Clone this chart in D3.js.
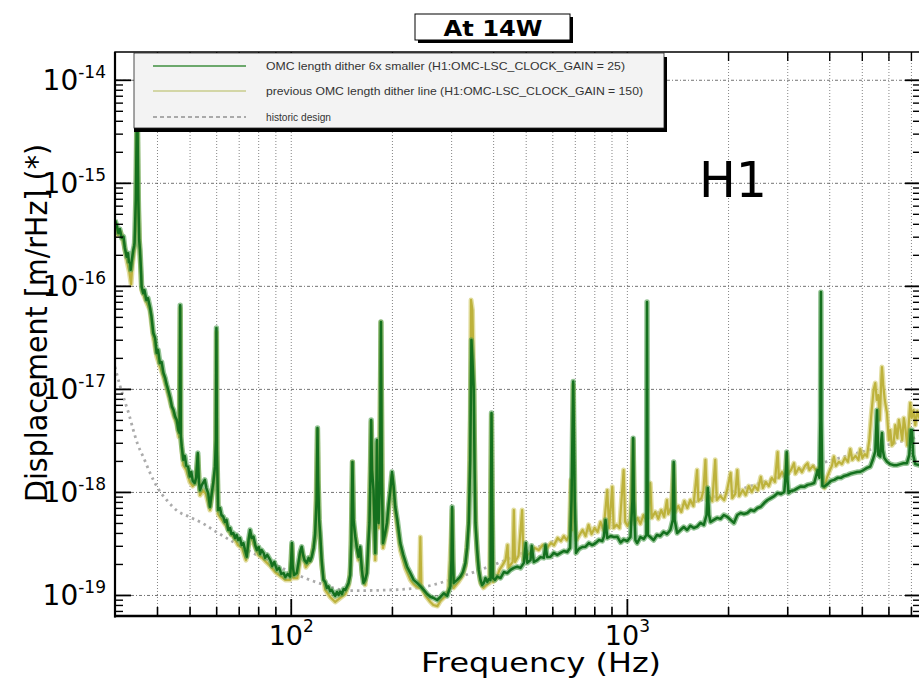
<!DOCTYPE html>
<html>
<head>
<meta charset="utf-8">
<script src="https://cdn.jsdelivr.net/npm/d3@7"></script>
<style>
  body { margin: 0; background: #fff; }
  svg { display: block; }
</style>
</head>
<body>
<svg id="chart" width="919" height="680"></svg>
<script>
// Displacement spectrum [m/rHz] against frequency [Hz]
const currentSpectrum = [[30,4.35e-16],[30.4,3.81e-16],[30.7,3.26e-16],[31.0,3.56e-16],[31.4,2.92e-16],[31.8,3.0e-16],[32.1,2.33e-16],[32.5,1.92e-16],[32.8,2.08e-16],[33.0,1.70e-16],[33.3,1.66e-16],[33.4,1.43e-16],[33.6,1.70e-16],[34.0,2.23e-16],[34.2,2.44e-16],[34.3,2.61e-16],[34.6,6.8e-16],[34.8,3.03e-15],[34.9,8.3e-15],[35.2,6.8e-16],[35.4,2.79e-16],[35.6,2.23e-16],[35.9,1.28e-16],[36.0,9.8e-17],[36.4,8.5e-17],[36.7,9.1e-17],[37.2,7.3e-17],[37.6,7.6e-17],[38.1,6.27e-17],[38.5,5.1e-17],[39.0,3.49e-17],[39.5,3.11e-17],[39.9,2.23e-17],[40.3,2.39e-17],[40.8,1.78e-17],[41.3,1.82e-17],[41.8,1.43e-17],[42.3,1.28e-17],[42.7,1.11e-17],[43.2,9.75e-18],[43.8,8.16e-18],[44.3,6.72e-18],[44.8,6.24e-18],[45.3,5.38e-18],[45.8,5.0e-18],[46.3,3.99e-18],[46.7,3.73e-18],[46.9,6.5e-17],[47.1,3.49e-18],[47.4,2.75e-18],[47.9,2.05e-18],[48.4,2.24e-18],[48.9,1.79e-18],[49.5,1.76e-18],[50.1,1.41e-18],[50.6,1.56e-18],[51.1,1.28e-18],[51.8,1.22e-18],[52.3,1.37e-18],[52.9,2.39e-18],[53.3,1.25e-18],[53.7,1.04e-18],[54.4,1.17e-18],[55.5,1.31e-18],[56.1,1.09e-18],[56.8,9.75e-19],[57.5,7.18e-19],[58.1,9.3e-19],[58.8,1.22e-18],[59.5,1.76e-18],[59.9,3.19e-18],[60.1,3.9e-17],[60.3,2.56e-18],[60.8,6.67e-19],[61.6,6.98e-19],[62.2,5.97e-19],[63.0,5.74e-19],[63.7,5.11e-19],[64.4,5.35e-19],[65.2,4.27e-19],[66.0,4.47e-19],[66.6,3.9e-19],[67.5,3.99e-19],[68.3,3.57e-19],[69.0,3.82e-19],[69.8,3.41e-19],[70.6,3.57e-19],[71.4,3.05e-19],[72.3,3.19e-19],[73.1,2.73e-19],[74.0,2.35e-19],[74.9,3.41e-19],[75.7,4.27e-19],[76.5,3.57e-19],[77.5,3.68e-19],[78.4,3.05e-19],[79.3,2.73e-19],[80.3,2.92e-19],[81.1,2.5e-19],[81.9,2.73e-19],[83.0,2.56e-19],[83.9,2.29e-19],[85.1,2.45e-19],[86.9,2.18e-19],[88.1,1.91e-19],[89.3,2.09e-19],[91.0,1.75e-19],[92.4,1.83e-19],[93.7,1.6e-19],[95.2,1.63e-19],[96.3,1.49e-19],[97.9,1.6e-19],[99.6,1.51e-19],[100.3,2.18e-19],[100.8,3.19e-19],[101.3,1.95e-19],[102.3,1.56e-19],[104.2,1.63e-19],[105.5,2.09e-19],[106.6,2.61e-19],[107.8,2.94e-19],[108.8,2.45e-19],[109.9,2.18e-19],[111.6,2.05e-19],[113.0,2.29e-19],[114.2,2.14e-19],[115.5,2.35e-19],[117.0,2.86e-19],[118.2,3.99e-19],[119.4,8.35e-19],[120.1,4.17e-18],[120.6,1.31e-18],[121.5,5.35e-19],[122.3,3.99e-19],[123.6,2.18e-19],[125.1,1.4e-19],[126.6,1.34e-19],[128.1,1.17e-19],[129.5,1.21e-19],[131.0,1.09e-19],[132.4,1.12e-19],[134.0,1.04e-19],[135.6,9.8e-20],[137.2,1.07e-19],[138.7,1.0e-19],[140.3,1.08e-19],[142.0,1.02e-19],[143.6,1.14e-19],[145.3,1.12e-19],[147.0,1.21e-19],[148.6,1.31e-19],[150.3,1.56e-19],[151.5,3.41e-19],[152.6,1.95e-18],[153.7,5.35e-19],[155.6,3.68e-19],[157.3,2.86e-19],[159.1,2.35e-19],[160.9,2.94e-19],[162.8,1.75e-19],[164.6,1.31e-19],[166.5,1.4e-19],[168.5,1.63e-19],[170.0,3.05e-19],[171.5,5.0e-19],[172.8,1.63e-18],[173.5,5.0e-18],[174.5,1.63e-18],[176.3,1.04e-18],[178.4,2.56e-19],[179.7,8.35e-19],[180.5,3.19e-18],[181.4,8.35e-19],[182.5,5.0e-19],[184.4,1.31e-18],[185.5,4.46e-17],[186.7,1.31e-18],[188.1,3.19e-19],[190.4,3.82e-19],[193.3,5.0e-19],[195.5,7.46e-19],[197.8,1.04e-18],[200.1,1.56e-18],[202.3,1.14e-18],[204.6,7.18e-19],[207.5,5.35e-19],[211.8,3.19e-19],[216.2,2.45e-19],[221.8,1.88e-19],[226.9,1.63e-19],[232.1,1.4e-19],[237.6,1.31e-19],[243.0,1.22e-19],[248.6,1.12e-19],[254.5,1.02e-19],[260.3,9.6e-20],[266.2,9.35e-20],[272.5,8.94e-20],[278.8,9.56e-20],[285.2,1.04e-19],[291.9,9.8e-20],[298.6,1.21e-19],[300.7,2.18e-19],[302.1,7.14e-19],[303.8,2.18e-19],[305.4,1.31e-19],[312.6,1.4e-19],[319.8,1.51e-19],[325.3,1.67e-19],[330.9,2.05e-19],[334.8,2.86e-19],[338.5,5.0e-19],[342.0,2.05e-18],[344.8,2.98e-17],[347.2,1.9e-17],[350.3,9.75e-18],[352.4,1.63e-18],[354.4,5.0e-19],[358.6,2.73e-19],[362.5,1.75e-19],[366.8,1.4e-19],[371.1,1.25e-19],[375.2,1.31e-19],[379.6,1.46e-19],[384.0,1.34e-19],[388.3,1.43e-19],[392.9,1.4e-19],[394.2,8.35e-19],[395.6,5.84e-18],[397.5,8.35e-19],[399.7,1.46e-19],[405.3,1.4e-19],[411.4,1.51e-19],[420.8,1.46e-19],[430.5,1.67e-19],[440.6,1.63e-19],[450.7,1.75e-19],[461.0,1.83e-19],[471.8,1.88e-19],[482.7,1.83e-19],[493.7,2.05e-19],[500.5,3.2e-19],[505.3,2.05e-19],[516.8,2.18e-19],[521.0,3.0e-19],[528.7,2.09e-19],[541.1,2.18e-19],[553.4,2.33e-19],[566.1,2.29e-19],[572.7,3.05e-19],[579.4,2.33e-19],[592.7,2.35e-19],[606.3,2.56e-19],[620.6,2.45e-19],[634.8,2.56e-19],[649.3,2.67e-19],[664.6,2.61e-19],[677.5,2.86e-19],[684.4,8.35e-19],[692.5,1.18e-17],[699.7,8.35e-19],[706.0,2.56e-19],[719.7,2.8e-19],[736.7,2.92e-19],[753.5,2.94e-19],[770.7,3.19e-19],[788.9,3.05e-19],[807.0,3.19e-19],[825.4,3.41e-19],[844.8,3.34e-19],[854.2,3.68e-19],[864.2,5.35e-19],[874.4,3.57e-19],[894.4,3.73e-19],[914.9,3.65e-19],[936.5,3.68e-19],[957.9,3.23e-19],[977.8,3.45e-19],[1003,3.34e-19],[1025,3.65e-19],[1039,8.35e-19],[1044,3.33e-18],[1049,8.35e-19],[1060,3.41e-19],[1073,3.19e-19],[1097,3.65e-19],[1122,3.49e-19],[1143,3.82e-19],[1148,6.97e-17],[1154,3.82e-19],[1174,3.65e-19],[1201,3.41e-19],[1229,3.82e-19],[1257,3.73e-19],[1286,4.09e-19],[1316,3.9e-19],[1347,4.27e-19],[1370,5.35e-19],[1378,1.95e-18],[1387,5.35e-19],[1411,3.99e-19],[1443,4.27e-19],[1476,4.57e-19],[1511,4.27e-19],[1545,4.69e-19],[1581,4.47e-19],[1618,4.6e-19],[1656,5.0e-19],[1694,4.79e-19],[1726,5.97e-19],[1741,1.09e-18],[1756,5.97e-19],[1774,5.11e-19],[1814,5.35e-19],[1857,5.6e-19],[1899,5.48e-19],[1943,5.97e-19],[1989,5.74e-19],[2035,5.35e-19],[2082,5.0e-19],[2131,5.97e-19],[2180,6.25e-19],[2230,6.11e-19],[2283,6.25e-19],[2336,6.67e-19],[2390,6.53e-19],[2447,6.98e-19],[2503,7.18e-19],[2561,7.8e-19],[2621,8.35e-19],[2682,8.72e-19],[2745,9.12e-19],[2809,9.75e-19],[2874,9.55e-19],[2940,9.99e-19],[2975,1.63e-18],[2989,2.44e-18],[3005,1.31e-18],[3026,9.75e-19],[3078,1.02e-18],[3149,1.04e-18],[3223,1.09e-18],[3295,1.13e-18],[3370,1.12e-18],[3449,1.17e-18],[3528,1.19e-18],[3609,1.22e-18],[3694,1.63e-18],[3740,1.37e-18],[3765,5.0e-18],[3778,8.7e-17],[3791,5.0e-18],[3817,1.14e-18],[3864,1.13e-18],[3955,1.19e-18],[4046,1.28e-18],[4139,1.31e-18],[4236,1.37e-18],[4332,1.37e-18],[4432,1.43e-18],[4537,1.46e-18],[4620,1.5e-18],[4730,1.53e-18],[4840,1.56e-18],[4948,1.57e-18],[5061,1.63e-18],[5180,1.71e-18],[5298,1.76e-18],[5390,2.05e-18],[5483,2.47e-18],[5548,6.2e-18],[5597,2.29e-18],[5675,2.2e-18],[5714,3.19e-18],[5740,3.73e-18],[5772,2.56e-18],[5832,2.14e-18],[5941,1.96e-18],[6076,1.86e-18],[6216,1.82e-18],[6363,1.82e-18],[6508,1.86e-18],[6656,1.9e-18],[6813,1.9e-18],[6922,2.29e-18],[6994,3.99e-18],[7051,3.99e-18],[7105,2.29e-18],[7213,1.86e-18],[7414,1.82e-18],[7515,1.79e-18]];

const previousSpectrum = [[30,4.16e-16],[30.6,3.11e-16],[31.2,3.33e-16],[31.9,2.49e-16],[32.6,1.7e-16],[33.1,1.36e-16],[33.5,1.04e-16],[33.8,1.6e-16],[34.3,2.33e-16],[34.6,3.49e-16],[34.8,3.03e-15],[34.9,8.3e-15],[35.2,6.08e-16],[35.6,1.99e-16],[36.0,9.1e-17],[36.6,7.96e-17],[37.3,6.8e-17],[38.1,5.82e-17],[38.9,3.33e-17],[39.9,2.08e-17],[40.8,1.66e-17],[41.8,1.31e-17],[42.7,1.02e-17],[43.8,7.46e-18],[44.7,5.7e-18],[45.8,4.57e-18],[46.5,3.41e-18],[46.9,6.08e-17],[47.1,3.19e-18],[47.9,1.83e-18],[48.9,1.63e-18],[50.1,1.25e-18],[51.1,1.14e-18],[52.1,1.22e-18],[52.9,2.24e-18],[53.7,9.3e-19],[54.8,1.04e-18],[55.9,9.56e-19],[57.5,6.67e-19],[58.7,1.09e-18],[59.7,1.63e-18],[60.1,3.56e-17],[60.4,2.29e-18],[60.8,6.11e-19],[62.4,5.35e-19],[64.2,4.69e-19],[66.0,3.99e-19],[67.9,3.57e-19],[69.7,3.05e-19],[71.6,2.86e-19],[73.6,2.18e-19],[75.7,3.82e-19],[77.9,3.05e-19],[80.1,2.45e-19],[82.3,2.29e-19],[84.5,2.09e-19],[86.9,1.91e-19],[89.9,1.67e-19],[93.1,1.53e-19],[96.3,1.4e-19],[99.6,1.4e-19],[100.8,3.05e-19],[101.7,1.46e-19],[104.6,1.46e-19],[107.8,2.73e-19],[110.9,1.86e-19],[114.8,2.18e-19],[118.2,3.65e-19],[120.1,3.99e-18],[121.5,4.79e-19],[123.6,1.95e-19],[126.6,1.12e-19],[131.0,9.56e-20],[135.6,8.55e-20],[140.3,9.35e-20],[145.3,1.02e-19],[148.8,1.25e-19],[150.8,1.95e-19],[152.6,1.95e-18],[153.7,4.79e-19],[156.4,3.41e-19],[159.1,2.18e-19],[160.9,2.73e-19],[163.1,1.56e-19],[166.5,1.25e-19],[170.0,2.45e-19],[173.5,4.78e-18],[175.9,9.3e-19],[178.4,2.18e-19],[180.5,2.98e-18],[182.7,4.47e-19],[185.5,4.46e-17],[188.1,2.86e-19],[193.3,4.47e-19],[200.1,1.43e-18],[204.6,6.4e-19],[211.8,2.73e-19],[219.1,1.83e-19],[226.9,1.4e-19],[231.6,1.28e-19],[234.8,1.23e-19],[241.3,1.17e-19],[243.0,3.65e-19],[244.7,1.17e-19],[251.9,9.8e-20],[260.3,8.55e-20],[265.6,8.0e-20],[273.1,7.8e-20],[278.8,8.73e-20],[286.6,9.56e-20],[294.7,1.12e-19],[297.9,2.18e-19],[302.1,6.67e-19],[304.9,1.17e-19],[315.6,1.34e-19],[324.2,1.53e-19],[330.9,1.91e-19],[337.8,4.79e-19],[342.0,5.0e-18],[343.9,7.3e-17],[347.2,5.82e-17],[350.3,1.22e-17],[353.2,1.63e-18],[355.6,4.27e-19],[359.3,2.18e-19],[366.8,1.31e-19],[374.4,1.17e-19],[382.2,1.25e-19],[390.3,1.31e-19],[395.6,5.58e-18],[399.7,1.34e-19],[409.4,1.46e-19],[417.9,1.75e-19],[426.6,1.95e-19],[435.5,2.18e-19],[441.6,3.05e-19],[444.6,1.83e-19],[457.2,2.09e-19],[461.0,6.67e-19],[464.7,2.09e-19],[476.0,2.4e-19],[488.0,6.67e-19],[492.4,2.18e-19],[506.5,2.45e-19],[520.6,2.61e-19],[531.7,2.86e-19],[546.7,2.73e-19],[562.2,3.05e-19],[578.1,2.86e-19],[594.5,3.19e-19],[607.1,3.05e-19],[622.4,3.57e-19],[636.4,3.34e-19],[649.3,3.73e-19],[662.7,3.41e-19],[674.1,3.82e-19],[681.3,1.31e-18],[688.4,4.27e-19],[692.5,1.09e-17],[698.6,5.35e-19],[708.5,3.41e-19],[723.1,3.82e-19],[738.2,4.27e-19],[753.5,3.73e-19],[769.2,4.79e-19],[785.2,3.9e-19],[801.5,4.47e-19],[818.1,4.09e-19],[835.1,5.11e-19],[852.4,4.27e-19],[874.4,1.04e-18],[885.3,4.47e-19],[905.0,1.12e-18],[913.3,4.47e-19],[932,4.79e-19],[951,4.47e-19],[978,1.63e-18],[988,5.11e-19],[1005,4.69e-19],[1025,5.35e-19],[1044,3.19e-18],[1056,4.9e-19],[1074,5.6e-19],[1097,4.9e-19],[1120,5.97e-19],[1143,5.23e-19],[1158,6.4e-19],[1174,1.22e-18],[1186,5.6e-19],[1215,6.4e-19],[1240,5.48e-19],[1265,6.67e-19],[1291,5.74e-19],[1316,8.35e-19],[1327,6.11e-19],[1354,6.98e-19],[1378,1.83e-18],[1393,6.4e-19],[1422,7.3e-19],[1452,6.4e-19],[1482,8.16e-19],[1513,6.98e-19],[1545,8.35e-19],[1577,7.3e-19],[1618,1.63e-18],[1632,8.16e-19],[1667,8.72e-19],[1690,1.04e-18],[1713,2.05e-18],[1730,8.35e-19],[1759,9.12e-19],[1795,8.16e-19],[1832,2.05e-18],[1851,8.35e-19],[1895,9.12e-19],[1947,8.35e-19],[1987,1.04e-18],[2035,1.53e-18],[2059,8.72e-19],[2101,9.56e-19],[2131,1.63e-18],[2157,9.12e-19],[2212,1.04e-18],[2257,9.3e-19],[2304,1.14e-18],[2352,9.99e-19],[2401,1.14e-18],[2452,1.04e-18],[2503,1.4e-18],[2538,1.09e-18],[2591,1.25e-18],[2644,1.14e-18],[2699,1.37e-18],[2756,1.25e-18],[2809,2.44e-18],[2833,1.37e-18],[2893,1.56e-18],[2954,1.4e-18],[2989,2.29e-18],[3015,1.5e-18],[3078,1.63e-18],[3142,1.9e-18],[3174,1.5e-18],[3250,1.71e-18],[3318,1.56e-18],[3388,1.79e-18],[3449,1.9e-18],[3491,1.63e-18],[3576,1.79e-18],[3651,1.63e-18],[3727,1.71e-18],[3804,1.43e-18],[3869,1.09e-18],[3936,1.37e-18],[4018,1.63e-18],[4073,1.79e-18],[4129,2.2e-18],[4186,1.79e-18],[4273,1.96e-18],[4361,1.86e-18],[4452,2.14e-18],[4546,1.96e-18],[4620,2.61e-18],[4683,2.05e-18],[4788,2.24e-18],[4887,2.05e-18],[4948,2.61e-18],[5018,2.14e-18],[5105,2.33e-18],[5180,2.2e-18],[5263,3.19e-18],[5335,5.58e-18],[5420,9.75e-18],[5483,1.14e-17],[5540,7.8e-18],[5597,8.7e-18],[5655,5.0e-18],[5714,1.22e-17],[5740,1.63e-17],[5791,1.09e-17],[5851,7.8e-18],[5941,5.84e-18],[6016,3.19e-18],[6076,3.99e-18],[6140,2.83e-18],[6216,2.98e-18],[6290,4.45e-18],[6378,3.33e-18],[6444,5.0e-18],[6508,4.26e-18],[6597,3.19e-18],[6665,5.22e-18],[6733,4.26e-18],[6825,2.83e-18],[6895,4.45e-18],[6966,7.3e-18],[7037,5.22e-18],[7124,6.24e-18],[7213,4.45e-18],[7313,6.1e-18],[7414,5.22e-18],[7515,5.58e-18]];

const designSpectrum = [[30,1.64e-17],[31,1.09e-17],[32,7.8e-18],[33,5.7e-18],[34,3.99e-18],[35,2.93e-18],[36.5,2.15e-18],[38,1.57e-18],[40,1.12e-18],[43,8.16e-19],[46,6.53e-19],[50,5.72e-19],[55,4.9e-19],[60,4.1e-19],[70,3.05e-19],[80,2.4e-19],[100,1.67e-19],[120,1.32e-19],[150,1.1e-19],[200,1.12e-19],[250,1.2e-19],[300,1.41e-19],[400,1.95e-19],[500,2.63e-19],[700,3.89e-19],[1000,5.13e-19],[1500,7.59e-19],[2000,9.77e-19],[3000,1.48e-18],[4000,2.0e-18],[5000,2.45e-18],[7500,3.47e-18]];

const xMajorTicks = [100, 1000];
const xMinorTicks = [40, 50, 60, 70, 80, 90, 200, 300, 400, 500, 600, 700, 800, 900, 2000, 3000, 4000, 5000, 6000, 7000];
const xTickExponents = ["2", "3"];
const yMajorTicks = [1e-19, 1e-18, 1e-17, 1e-16, 1e-15, 1e-14];
const yMinorTicks = [7e-20, 8e-20, 9e-20,
  2e-19, 3e-19, 4e-19, 5e-19, 6e-19, 7e-19, 8e-19, 9e-19,
  2e-18, 3e-18, 4e-18, 5e-18, 6e-18, 7e-18, 8e-18, 9e-18,
  2e-17, 3e-17, 4e-17, 5e-17, 6e-17, 7e-17, 8e-17, 9e-17,
  2e-16, 3e-16, 4e-16, 5e-16, 6e-16, 7e-16, 8e-16, 9e-16,
  2e-15, 3e-15, 4e-15, 5e-15, 6e-15, 7e-15, 8e-15, 9e-15];
const yTickExponents = ["-19", "-18", "-17", "-16", "-15", "-14"];
const legendLabels = [
  "OMC length dither 6x smaller (H1:OMC-LSC_CLOCK_GAIN = 25)",
  "previous OMC length dither line (H1:OMC-LSC_CLOCK_GAIN = 150)",
  "historic design"
];
const titleText = "At 14W";
const siteLabel = "H1";
const xTitle = "Frequency (Hz)";
const yTitle = "Displacement [m/rHz] (*)";

// ---- layout ----
const W = 919, H = 680;
const L = 115, R = 921, T = 52, B = 616;
const FONT = "'DejaVu Sans', 'Liberation Sans', Arial, sans-serif";

const svg = d3.select("#chart");
svg.append("rect").attr("width", W).attr("height", H).attr("fill", "#fff");

const x = d3.scaleLog().domain([30, 7500]).range([L, R]);
const y = d3.scaleLog().domain([6.25e-20, 1.86e-14]).range([B, T]);

svg.append("defs").append("clipPath").attr("id", "plotClip")
  .append("rect").attr("x", L).attr("y", T).attr("width", R - L).attr("height", B - T);

// ---- grid ----
svg.append("g")
  .attr("transform", `translate(0,${B})`)
  .call(d3.axisBottom(x).tickValues(xMinorTicks.concat(xMajorTicks)).tickSize(-(B - T)).tickFormat(""))
  .call(g => g.select(".domain").remove())
  .selectAll("line")
  .attr("stroke", "#555").attr("stroke-width", 0.9).attr("stroke-dasharray", "1 2").attr("opacity", 0.8);

svg.append("g")
  .attr("transform", `translate(${L},0)`)
  .call(d3.axisLeft(y).tickValues(yMajorTicks).tickSize(-(R - L)).tickFormat(""))
  .call(g => g.select(".domain").remove())
  .selectAll("line")
  .attr("stroke", "#444").attr("stroke-width", 1).attr("stroke-dasharray", "3 2 1 2").attr("opacity", 0.75);

// ---- spectra ----
const plot = svg.append("g").attr("clip-path", "url(#plotClip)");
const line = d3.line().x(d => x(d[0])).y(d => y(d[1]));
const smoothLine = d3.line().x(d => x(d[0])).y(d => y(d[1])).curve(d3.curveMonotoneX);

plot.append("path").datum(designSpectrum).attr("d", smoothLine)
  .attr("fill", "none").attr("stroke", "#ababab").attr("stroke-width", 2.8)
  .attr("stroke-dasharray", "2.5 4");

plot.append("path").datum(previousSpectrum).attr("d", line)
  .attr("fill", "none").attr("stroke", "#d6d07a").attr("stroke-width", 5).attr("opacity", 0.7)
  .attr("stroke-linejoin", "round");
plot.append("path").datum(previousSpectrum).attr("d", line)
  .attr("fill", "none").attr("stroke", "#bdb23c").attr("stroke-width", 2.2)
  .attr("stroke-linejoin", "round");

plot.append("path").datum(currentSpectrum).attr("d", line)
  .attr("fill", "none").attr("stroke", "#4c9c4c").attr("stroke-width", 5.4).attr("opacity", 0.6)
  .attr("stroke-linejoin", "round");
plot.append("path").datum(currentSpectrum).attr("d", line)
  .attr("fill", "none").attr("stroke", "#14701e").attr("stroke-width", 2.5)
  .attr("stroke-linejoin", "round");

// ---- frame and ticks ----
function styleTicks(g, w) {
  g.select(".domain").remove();
  g.selectAll("line").attr("stroke", "#000").attr("stroke-width", w);
}
svg.append("g").attr("transform", `translate(0,${B})`)
  .call(d3.axisBottom(x).tickValues(xMinorTicks).tickSize(-9).tickFormat(""))
  .call(g => styleTicks(g, 1.6));
const xMajor = svg.append("g").attr("transform", `translate(0,${B})`)
  .call(d3.axisBottom(x).tickValues(xMajorTicks).tickSize(-17).tickFormat(""))
  .call(g => styleTicks(g, 1.8));
svg.append("g").attr("transform", `translate(0,${T})`)
  .call(d3.axisTop(x).tickValues(xMinorTicks).tickSize(-9).tickFormat(""))
  .call(g => styleTicks(g, 1.4));
svg.append("g").attr("transform", `translate(0,${T})`)
  .call(d3.axisTop(x).tickValues(xMajorTicks).tickSize(-17).tickFormat(""))
  .call(g => styleTicks(g, 1.6));

svg.append("g").attr("transform", `translate(${L},0)`)
  .call(d3.axisLeft(y).tickValues(yMinorTicks).tickSize(-8).tickFormat(""))
  .call(g => styleTicks(g, 1.4));
const yMajor = svg.append("g").attr("transform", `translate(${L},0)`)
  .call(d3.axisLeft(y).tickValues(yMajorTicks).tickSize(-16).tickFormat(""))
  .call(g => styleTicks(g, 1.8));
svg.append("g").attr("transform", `translate(${R},0)`)
  .call(d3.axisRight(y).tickValues(yMinorTicks).tickSize(-8).tickFormat(""))
  .call(g => styleTicks(g, 1.4));
svg.append("g").attr("transform", `translate(${R},0)`)
  .call(d3.axisRight(y).tickValues(yMajorTicks).tickSize(-16).tickFormat(""))
  .call(g => styleTicks(g, 1.8));

svg.append("rect").attr("x", L).attr("y", T).attr("width", R - L).attr("height", B - T)
  .attr("fill", "none").attr("stroke", "#000").attr("stroke-width", 1.5);
svg.append("line").attr("x1", L).attr("x2", L).attr("y1", T).attr("y2", B + 1.5)
  .attr("stroke", "#000").attr("stroke-width", 2.2);
svg.append("line").attr("x1", L - 1).attr("x2", R).attr("y1", B).attr("y2", B)
  .attr("stroke", "#000").attr("stroke-width", 2.6);

// power-of-ten tick labels
xMajor.selectAll(".tick").each(function (d, i) {
  const t = d3.select(this).append("text")
    .attr("x", 0).attr("y", 29).attr("text-anchor", "middle")
    .attr("fill", "#000").attr("font-family", FONT).attr("font-size", 27);
  t.append("tspan").text("10");
  t.append("tspan").attr("dy", -13).attr("font-size", 17).text(xTickExponents[i]);
});
yMajor.selectAll(".tick").each(function (d, i) {
  const t = d3.select(this).append("text")
    .attr("x", -9).attr("y", 10).attr("text-anchor", "end")
    .attr("fill", "#000").attr("font-family", FONT).attr("font-size", 28);
  t.append("tspan").text("10");
  t.append("tspan").attr("dy", -12).attr("font-size", 17).text(yTickExponents[i]);
});

// axis titles
svg.append("text").attr("x", 541).attr("y", 672).attr("text-anchor", "middle")
  .attr("font-family", FONT).attr("font-size", 27).attr("fill", "#000")
  .attr("textLength", 240).attr("lengthAdjust", "spacingAndGlyphs")
  .text(xTitle);
svg.append("text").attr("transform", "translate(47,323) rotate(-90)")
  .attr("text-anchor", "middle")
  .attr("font-family", FONT).attr("font-size", 31).attr("fill", "#000")
  .attr("textLength", 358).attr("lengthAdjust", "spacingAndGlyphs")
  .text(yTitle);

// ---- legend ----
const lg = svg.append("g");
lg.append("rect").attr("x", 134).attr("y", 127).attr("width", 533).attr("height", 5).attr("fill", "#000");
lg.append("rect").attr("x", 663).attr("y", 57).attr("width", 4).attr("height", 75).attr("fill", "#000");
lg.append("rect").attr("x", 134).attr("y", 53).attr("width", 530).attr("height", 75)
  .attr("fill", "#f3f3f3").attr("stroke", "#222").attr("stroke-width", 0.8);
const legendRows = [66, 91, 117];
const legendWidths = [359, 377, 65];
const legendStyles = [
  { stroke: "#3f8f3f", width: 1.6, dash: null },
  { stroke: "#c9cc8c", width: 1.6, dash: null },
  { stroke: "#a9a9a9", width: 2.2, dash: "4 3" }
];
legendLabels.forEach((label, i) => {
  const s = legendStyles[i];
  lg.append("line").attr("x1", 153).attr("x2", 246)
    .attr("y1", legendRows[i]).attr("y2", legendRows[i])
    .attr("stroke", s.stroke).attr("stroke-width", s.width)
    .attr("stroke-dasharray", s.dash);
  lg.append("text").attr("x", 266).attr("y", legendRows[i] + 4)
    .attr("font-family", "'Liberation Sans', Arial, sans-serif").attr("font-size", 10.5)
    .attr("fill", "#333")
    .attr("textLength", legendWidths[i]).attr("lengthAdjust", "spacingAndGlyphs")
    .text(label);
});

// ---- title box ----
svg.append("rect").attr("x", 418).attr("y", 17).attr("width", 155).attr("height", 26).attr("fill", "#000");
svg.append("rect").attr("x", 415).attr("y", 14).attr("width", 155).attr("height", 26)
  .attr("fill", "#fff").attr("stroke", "#000").attr("stroke-width", 1);
svg.append("text").attr("x", 493).attr("y", 36).attr("text-anchor", "middle")
  .attr("font-family", FONT).attr("font-weight", "bold").attr("font-size", 21)
  .attr("textLength", 99).attr("lengthAdjust", "spacingAndGlyphs")
  .attr("fill", "#000").text(titleText);

// ---- site label ----
svg.append("text").attr("x", 699).attr("y", 197)
  .attr("font-family", FONT).attr("font-size", 49).attr("fill", "#000")
  .text(siteLabel);
</script>
</body>
</html>
